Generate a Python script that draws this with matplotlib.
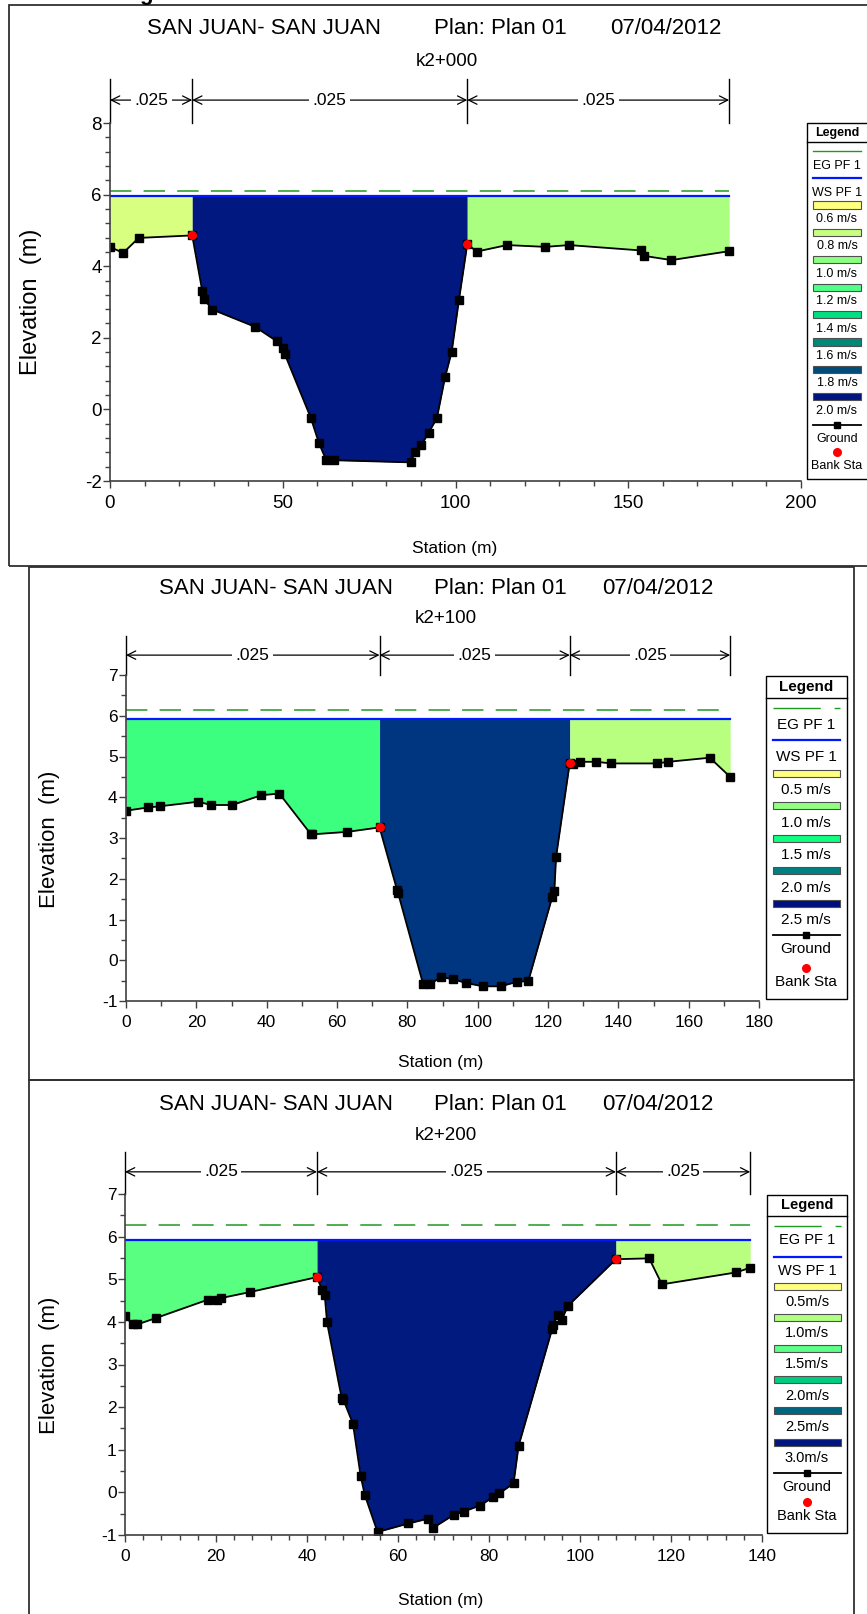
"""Three HEC-RAS style cross sections of the San Juan river."""

import matplotlib
matplotlib.use("Agg")
import matplotlib.pyplot as plt
from matplotlib.lines import Line2D
from matplotlib.patches import Rectangle
from matplotlib.ticker import MultipleLocator
import numpy as np

W, H = 867, 1614
plt.rcParams["font.family"] = ["Liberation Sans", "DejaVu Sans"]
plt.rcParams["axes.unicode_minus"] = False

# ---- text ----
river = "SAN JUAN- SAN JUAN"
plan = "Plan: Plan 01"
date = "07/04/2012"
n_value = ".025"
section_names = ["k2+000", "k2+100", "k2+200"]

# ---- k2+000 ----
k2000_sta = [0, 3.8, 8.3, 23.8, 26.7, 27.3, 29.6, 41.9, 48.2, 50.2, 50.6, 58.1,
             60.5, 62.6, 64.9, 87.1, 88.2, 90.1, 92.2, 94.6, 97.0, 98.9, 101.0,
             103.4, 106.2, 114.9, 126.0, 132.9, 153.7, 154.5, 162.5, 179.2]
k2000_elev = [4.54, 4.37, 4.79, 4.86, 3.31, 3.07, 2.79, 2.31, 1.91, 1.72, 1.54, -0.23,
              -0.95, -1.42, -1.42, -1.48, -1.20, -1.00, -0.65, -0.25, 0.91, 1.61, 3.06,
              4.61, 4.41, 4.59, 4.54, 4.59, 4.44, 4.29, 4.17, 4.42]
k2000_banks = [23.8, 103.4]
k2000_ws = 5.95
k2000_eg = 6.11
k2000_speeds = ["0.6 m/s", "0.8 m/s", "1.0 m/s", "1.2 m/s", "1.4 m/s",
                "1.6 m/s", "1.8 m/s", "2.0 m/s"]
k2000_speed_colors = ["#ffff80", "#c8ff80", "#8cff80", "#50ff88", "#00e080",
                      "#008878", "#004c7a", "#00157f"]
k2000_fills = ["#d8ff80", "#00187f", "#aaff80"]

# ---- k2+100 ----
k2100_sta = [0, 6.3, 9.8, 20.5, 24.2, 30.2, 38.5, 43.6, 52.6, 53.0, 62.9, 72.1,
             77.1, 77.4, 84.5, 86.5, 89.5, 93.1, 96.8, 101.5, 106.5, 111.2, 114.4,
             121.2, 121.8, 122.3, 126.2, 127.1, 129.0, 133.7, 138.0, 151.0, 154.2,
             166.0, 171.8]
k2100_elev = [3.67, 3.75, 3.78, 3.89, 3.81, 3.81, 4.05, 4.09, 3.09, 3.09, 3.15, 3.26,
              1.72, 1.64, -0.59, -0.59, -0.41, -0.47, -0.56, -0.64, -0.64, -0.53, -0.51,
              1.55, 1.69, 2.54, 4.85, 4.81, 4.87, 4.87, 4.83, 4.83, 4.87,
              4.97, 4.50]
k2100_banks = [72.1, 126.2]
k2100_ws = 5.91
k2100_eg = 6.14
k2100_speeds = ["0.5 m/s", "1.0 m/s", "1.5 m/s", "2.0 m/s", "2.5 m/s"]
k2100_speed_colors = ["#ffff80", "#90ff80", "#10ff80", "#008080", "#000f80"]
k2100_fills = ["#3dff7f", "#00357f", "#b8ff80"]

# ---- k2+200 ----
k2200_sta = [0, 1.7, 2.7, 6.8, 18.2, 20.2, 21.2, 27.5, 42.2, 43.3, 43.9, 44.4,
             47.6, 48.0, 50.1, 51.8, 52.7, 55.5, 62.3, 66.5, 67.6, 72.2, 74.4,
             78.0, 80.8, 82.3, 85.4, 86.5, 93.9, 94.1, 95.1, 96.0, 97.3, 107.9,
             115.2, 118.0, 134.3, 137.4]
k2200_elev = [4.13, 3.94, 3.94, 4.09, 4.52, 4.52, 4.56, 4.70, 5.05, 4.75, 4.63, 3.99,
              2.22, 2.17, 1.61, 0.38, -0.06, -0.93, -0.73, -0.62, -0.84, -0.53, -0.45,
              -0.31, -0.12, -0.02, 0.21, 1.09, 3.84, 3.92, 4.17, 4.05, 4.37, 5.47,
              5.49, 4.88, 5.16, 5.27]
k2200_banks = [42.2, 107.9]
k2200_ws = 5.92
k2200_eg = 6.28
k2200_speeds = ["0.5m/s", "1.0m/s", "1.5m/s", "2.0m/s", "2.5m/s", "3.0m/s"]
k2200_speed_colors = ["#ffff80", "#b0ff80", "#5cff88", "#00cc80", "#006680", "#001480"]
k2200_fills = ["#58ff80", "#001a80", "#b8ff80"]


def fx(px):
    return px / W


def fy(py):
    return 1 - py / H


def draw_section(fig, box, sta, elev, banks, ws, eg, fills, xlim, xstep, xminor,
                 ylim, ystep, yminor, bracket_h, arrow_h, tick_fs):
    left, top, right, bottom = box
    ax = fig.add_axes([fx(left), fy(bottom), (right - left) / W, (bottom - top) / H])
    sta = np.asarray(sta)
    elev = np.asarray(elev)
    bl, br = banks

    masks = [sta <= bl, (sta >= bl) & (sta <= br), sta >= br]
    for m, c in zip(masks, fills):
        ax.fill_between(sta[m], elev[m], ws, color=c, lw=0)

    ax.plot([sta[0], sta[-1]], [eg, eg], color="#1f9a1f", lw=1.1, dashes=(14, 8))
    ax.plot([sta[0], sta[-1]], [ws, ws], color="#0018ff", lw=1.6)
    ax.plot(sta, elev, color="black", lw=1.3, marker="s", ms=5.2)
    ax.plot(banks, np.interp(banks, sta, elev), "o", color="red", ms=6.5, mew=0)

    # Manning's n brackets above the plot
    trans = ax.get_xaxis_transform()
    bounds = [sta[0], bl, br, sta[-1]]
    for b in bounds:
        ax.plot([b, b], [1.0, 1.0 + bracket_h], transform=trans, color="black",
                lw=1.0, clip_on=False)
    for a, b in zip(bounds[:-1], bounds[1:]):
        ax.annotate("", xy=(b, 1.0 + arrow_h), xytext=(a, 1.0 + arrow_h),
                    xycoords=trans, textcoords=trans,
                    arrowprops=dict(arrowstyle="<->,head_length=0.6,head_width=0.3",
                                    lw=0.9, color="black", shrinkA=0, shrinkB=0))
        ax.text((a + b) / 2, 1.0 + arrow_h, n_value, transform=trans, ha="center",
                va="center", fontsize=12.5,
                bbox=dict(fc="white", ec="none", pad=2.5))

    ax.set_xlim(xlim)
    ax.set_ylim(ylim)
    ax.xaxis.set_major_locator(MultipleLocator(xstep))
    ax.xaxis.set_minor_locator(MultipleLocator(xminor))
    ax.yaxis.set_major_locator(MultipleLocator(ystep))
    ax.yaxis.set_minor_locator(MultipleLocator(yminor))
    for s in ["top", "right"]:
        ax.spines[s].set_visible(False)
    for s in ["left", "bottom"]:
        ax.spines[s].set_color("#404040")
        ax.spines[s].set_linewidth(1.2)
    ax.tick_params(which="major", direction="out", length=5, width=1,
                   color="#404040", labelsize=tick_fs)
    ax.tick_params(which="minor", direction="out", length=3.5, width=1,
                   color="#404040")
    ax.tick_params(axis="x", pad=5)
    ax.tick_params(axis="y", pad=1)
    ax.patch.set_alpha(0)
    return ax


def draw_titles(fig, xs, y, sub_x, sub_y, name):
    for x, t in zip(xs, [river, plan, date]):
        fig.text(fx(x), fy(y), t, ha="left", va="center", fontsize=16)
    fig.text(fx(sub_x), fy(sub_y), name, ha="center", va="center", fontsize=13.5)


def draw_legend(fig, box, cx, lx, header_y, div_y, eg_y, ws_y, label_gap,
                patch_y0, patch_step, text_gap, ground_y, bank_y, speeds, colors,
                fs, eg_dashed):
    l, t, r, b = box
    fig.add_artist(Rectangle((fx(l), fy(b)), (r - l) / W, (b - t) / H,
                             transform=fig.transFigure, fc="white", ec="black",
                             lw=1.0))
    fig.add_artist(Line2D([fx(l), fx(r)], [fy(div_y), fy(div_y)], color="black", lw=1.0))
    fig.text(fx(cx), fy(header_y), "Legend", ha="center", va="center",
             fontsize=fs, fontweight="bold")
    x0, x1 = lx
    eg_line = Line2D([fx(x0), fx(x1)], [fy(eg_y), fy(eg_y)], color="#1f9a1f", lw=1.0)
    if eg_dashed:
        eg_line.set_dashes((34, 10))
    fig.add_artist(eg_line)
    fig.text(fx(cx), fy(eg_y + label_gap), "EG PF 1", ha="center", va="center", fontsize=fs)
    fig.add_artist(Line2D([fx(x0), fx(x1)], [fy(ws_y), fy(ws_y)], color="#0018ff", lw=1.6))
    fig.text(fx(cx), fy(ws_y + label_gap), "WS PF 1", ha="center", va="center", fontsize=fs)
    for i, (lab, c) in enumerate(zip(speeds, colors)):
        py = patch_y0 + i * patch_step
        fig.add_artist(Rectangle((fx(x0), fy(py + 3.5)), (x1 - x0) / W, 7 / H,
                                 transform=fig.transFigure, fc=c, ec="#505050", lw=0.8))
        fig.text(fx(cx), fy(py + text_gap), lab, ha="center", va="center", fontsize=fs)
    fig.add_artist(Line2D([fx(x0), fx(x1)], [fy(ground_y), fy(ground_y)], color="black",
                          lw=1.3))
    fig.add_artist(Line2D([fx(cx)], [fy(ground_y)], color="black", marker="s", ms=5))
    fig.text(fx(cx), fy(ground_y + 14), "Ground", ha="center", va="center", fontsize=fs)
    fig.add_artist(Line2D([fx(cx)], [fy(bank_y)], color="red", marker="o", ms=6.5, mew=0))
    fig.text(fx(cx), fy(bank_y + 14), "Bank Sta", ha="center", va="center", fontsize=fs)


fig = plt.figure(figsize=(W / 100, H / 100), dpi=100)

# panel frames
for l, t, r, b in [(9, 5, 880, 566), (29, 567, 854, 1080), (29, 1080, 854, 1630)]:
    fig.add_artist(Rectangle((fx(l), fy(b)), (r - l) / W, (b - t) / H,
                             transform=fig.transFigure, fc="none", ec="#303030", lw=1.3))

# cut-off heading letter above the first panel (only its tail shows, as in the source)
fig.text(fx(146), 1.0, "g", ha="center", va="baseline", fontsize=16,
         fontweight="bold")

# k2+000
draw_titles(fig, [147, 434, 610], 28, 447, 61, section_names[0])
draw_section(fig, (110, 123, 801, 481), k2000_sta, k2000_elev, k2000_banks,
             k2000_ws, k2000_eg, k2000_fills, (0, 200), 50, 10, (-2, 8), 2, 0.4,
             0.123, 0.064, 13.5)
fig.text(fx(31), fy(302), "Elevation  (m)", rotation=90, ha="center", va="center",
         fontsize=17)
fig.text(fx(455), fy(548), "Station (m)", ha="center", va="center", fontsize=12.5)
draw_legend(fig, (807, 123, 880, 479), 837, (813, 861), 133, 142, 151, 178, 15,
            205, 27.4, 14, 425, 452, k2000_speeds, k2000_speed_colors, 9, False)

# k2+100
draw_titles(fig, [159, 434, 602], 589, 446, 619, section_names[1])
draw_section(fig, (126, 675, 759, 1001), k2100_sta, k2100_elev, k2100_banks,
             k2100_ws, k2100_eg, k2100_fills, (0, 180), 20, 10, (-1, 7), 1, 0.5,
             0.12, 0.061, 12.5)
fig.text(fx(50), fy(839), "Elevation  (m)", rotation=90, ha="center", va="center",
         fontsize=16)
fig.text(fx(441), fy(1063), "Station (m)", ha="center", va="center", fontsize=12.5)
draw_legend(fig, (766, 676, 847, 999), 806, (773, 840), 687, 698, 708, 740, 17,
            773, 32.5, 17, 935, 968, k2100_speeds, k2100_speed_colors, 11, True)

# k2+200
draw_titles(fig, [159, 434, 602], 1104, 446, 1136, section_names[2])
draw_section(fig, (125, 1194, 762, 1535), k2200_sta, k2200_elev, k2200_banks,
             k2200_ws, k2200_eg, k2200_fills, (0, 140), 20, 4, (-1, 7), 1, 0.5,
             0.123, 0.065, 12.5)
fig.text(fx(50), fy(1365), "Elevation  (m)", rotation=90, ha="center", va="center",
         fontsize=16)
fig.text(fx(441), fy(1600), "Station (m)", ha="center", va="center", fontsize=12.5)
draw_legend(fig, (767, 1195, 847, 1533), 807, (774, 841), 1205, 1216, 1226, 1257, 14,
            1286, 31.2, 16, 1473, 1502, k2200_speeds, k2200_speed_colors, 10.5, True)

fig.savefig("out.png", dpi=100)
